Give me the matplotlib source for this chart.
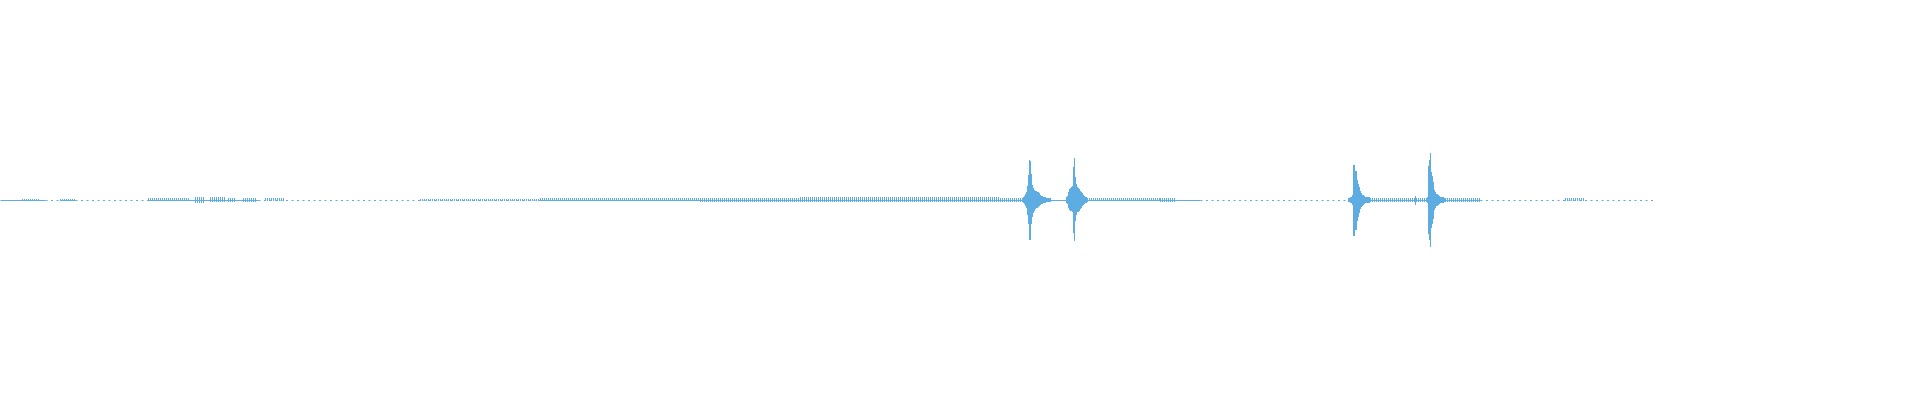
import matplotlib
matplotlib.use("Agg")
import matplotlib.pyplot as plt
import numpy as np

WAVE_COLOR = "#5dade2"

# ---- data (x in waveform columns, amplitudes in px-equivalent units) ----
wave_end = 1655

# baseline: solid stretches and dotted (near-silent) stretches
solid_spans = [(0, 45), (60, 75), (148, 258), (540, 1200), (1348, 1480)]
dotted_spans = [(45, 60), (75, 148), (258, 540), (1200, 1345), (1480, 1655)]

# low-level noise bands: (start, end, amplitude)
noise_start = [22, 60, 148, 195, 210, 228, 243, 265, 420, 540, 700, 800, 1000, 1087, 1160, 1370, 1443, 1565]
noise_end   = [40, 75, 190, 205, 225, 236, 257, 285, 540, 700, 800, 1000, 1022, 1160, 1176, 1426, 1480, 1585]
noise_amp   = [1, 1, 1.5, 3, 2.5, 2, 2, 1.5, 1, 1.5, 2, 2.5, 2, 1.5, 2, 2, 2, 1.5]

# transients (onsets), per-column envelope above / below the centre line
spike_start = [1022, 1066, 1348, 1426, 1415]
spike_up = [
    [2, 3, 4, 6, 8, 14, 25, 40, 39, 26, 15, 12, 10, 9, 9, 8, 8, 7, 5, 4, 4, 3, 3, 3, 2, 2, 2, 2, 2],
    [3, 4, 8, 11, 12, 13, 14, 33, 42, 23, 16, 13, 12, 11, 9, 8, 7, 5, 4, 3, 3, 2],
    [2, 2, 3, 3, 5, 35, 35, 29, 29, 20, 16, 13, 9, 7, 5, 5, 4, 3, 3, 3, 3, 3, 2],
    [2, 3, 34, 40, 47, 28, 24, 18, 10, 8, 6, 6, 5, 4, 3, 3, 3, 3, 2],
    [4],
]
spike_down = [
    [2, 3, 4, 6, 8, 15, 24, 40, 40, 24, 17, 13, 11, 9, 8, 8, 7, 6, 5, 4, 4, 3, 3, 3, 2, 2, 2, 2, 2],
    [3, 4, 8, 10, 11, 11, 12, 33, 41, 21, 15, 12, 12, 11, 9, 8, 6, 5, 4, 3, 3, 2],
    [2, 2, 3, 3, 5, 36, 36, 30, 30, 21, 17, 13, 9, 7, 6, 5, 4, 3, 3, 3, 3, 3, 2],
    [2, 3, 34, 40, 47, 28, 24, 19, 10, 8, 6, 6, 5, 4, 3, 3, 3, 3, 2],
    [5],
]

# ---- drawing ----
plt.rcParams["lines.scale_dashes"] = False
fig = plt.figure(figsize=(19.2, 4.0), dpi=100)
ax = fig.add_axes([0, 0, 1, 1])
ax.set_xlim(0, 1920)
ax.set_ylim(-200.5, 199.5)
ax.axis("off")

px = 0.72  # one pixel in points

for a, b in solid_spans:
    ax.plot([a, b], [0, 0], color=WAVE_COLOR, lw=px, solid_capstyle="butt")
for a, b in dotted_spans:
    ax.plot([a, b], [0, 0], color=WAVE_COLOR, lw=px, linestyle=(0, (2 * px, 3.5 * px)),
            dash_capstyle="butt")

# noise bars, one bar every other column
for s, e, amp in zip(noise_start, noise_end, noise_amp):
    cols = np.arange(s, e, 2)
    ax.bar(cols + 0.5, 2 * amp, width=1.0, bottom=-amp, color=WAVE_COLOR, linewidth=0)

# transients
for s, up, dn in zip(spike_start, spike_up, spike_down):
    up = np.asarray(up, float)
    dn = np.asarray(dn, float)
    cols = s + np.arange(len(up))
    ax.bar(cols + 0.5, up + dn, width=1.0, bottom=-dn, color=WAVE_COLOR, linewidth=0)

fig.savefig("out.png", dpi=100, facecolor="white")
